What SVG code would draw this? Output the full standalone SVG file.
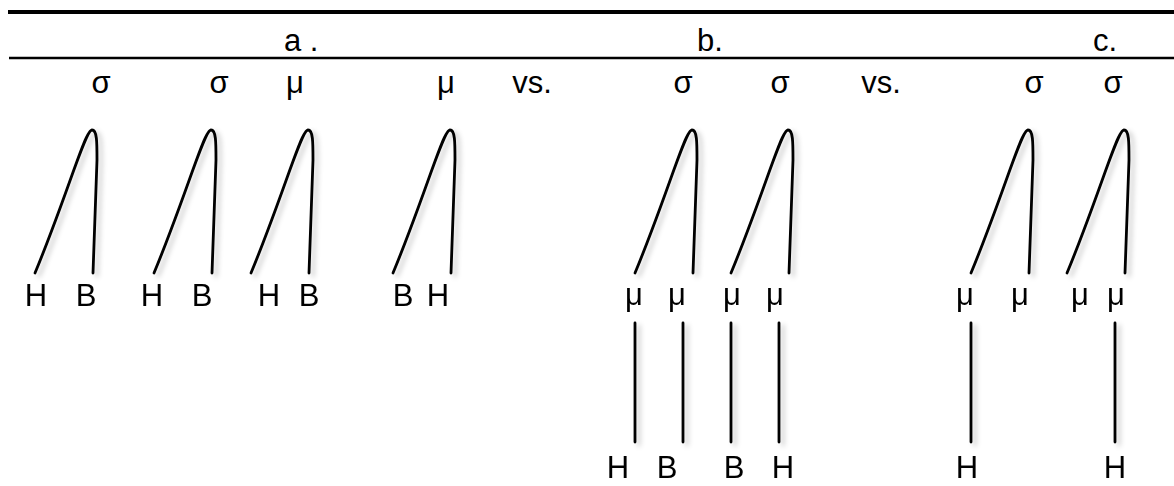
<svg xmlns="http://www.w3.org/2000/svg" xmlns:xlink="http://www.w3.org/1999/xlink" width="1174" height="486" viewBox="0 0 1174 486">
<style>
text{font-family:"Liberation Sans",Arial,sans-serif;font-size:31px;fill:#000}
.m{text-anchor:middle}
.ln{fill:none;stroke:#000;stroke-width:2.8;stroke-linecap:round}
</style>
<defs>
<filter id="sh" x="-30%" y="-10%" width="160%" height="130%">
<feDropShadow dx="4" dy="3" stdDeviation="2.5" flood-color="#000" flood-opacity="0.22"/>
</filter>
<path id="arcA" d="M0,143 C33,63 50,0 57,0 C62,0 62,12 62,30 L58,143"/>
</defs>
<rect width="1174" height="486" fill="#fff"/>
<g id="rules">
<line x1="8" y1="12" x2="1174" y2="12" stroke="#000" stroke-width="4"/>
<line x1="9" y1="58" x2="1174" y2="58" stroke="#000" stroke-width="2.4"/>
</g>
<g id="headers">
<text x="284" y="51">a .</text>
<text x="697" y="51">b.</text>
<text x="1093" y="51">c.</text>
</g>
<g id="top-labels">
<text class="m" x="101" y="93">σ</text>
<text class="m" x="219" y="93">σ</text>
<text class="m" x="295" y="93">μ</text>
<text class="m" x="446" y="93">μ</text>
<text class="m" x="532" y="93">vs.</text>
<text class="m" x="683" y="93">σ</text>
<text class="m" x="780" y="93">σ</text>
<text class="m" x="881" y="93">vs.</text>
<text class="m" x="1034" y="93">σ</text>
<text class="m" x="1113" y="93">σ</text>
</g>
<g id="connectors" class="ln" filter="url(#sh)">
<use xlink:href="#arcA" x="35" y="130"/>
<use xlink:href="#arcA" x="154" y="130"/>
<use xlink:href="#arcA" x="251" y="130"/>
<use xlink:href="#arcA" x="393" y="130"/>
<use xlink:href="#arcA" x="635" y="130"/>
<use xlink:href="#arcA" x="731" y="130"/>
<use xlink:href="#arcA" x="971" y="130"/>
<use xlink:href="#arcA" x="1067" y="130"/>
<line x1="635" y1="323" x2="635" y2="442"/>
<line x1="683" y1="323" x2="683" y2="442"/>
<line x1="731" y1="323" x2="731" y2="442"/>
<line x1="779" y1="323" x2="779" y2="442"/>
<line x1="971" y1="323" x2="971" y2="442"/>
<line x1="1115" y1="323" x2="1115" y2="442"/>
</g>
<g id="node-a-labels">
<text class="m" x="36" y="306">H</text>
<text class="m" x="86" y="306">B</text>
<text class="m" x="152" y="306">H</text>
<text class="m" x="202" y="306">B</text>
<text class="m" x="269" y="306">H</text>
<text class="m" x="309" y="306">B</text>
<text class="m" x="403" y="306">B</text>
<text class="m" x="438" y="306">H</text>
</g>
<g id="node-mu-labels">
<text class="m" x="634" y="305">μ</text>
<text class="m" x="677" y="305">μ</text>
<text class="m" x="732" y="305">μ</text>
<text class="m" x="775" y="305">μ</text>
<text class="m" x="965" y="305">μ</text>
<text class="m" x="1020" y="305">μ</text>
<text class="m" x="1080" y="305">μ</text>
<text class="m" x="1116" y="305">μ</text>
</g>
<g id="node-bottom-labels">
<text class="m" x="618" y="478">H</text>
<text class="m" x="667" y="478">B</text>
<text class="m" x="734" y="478">B</text>
<text class="m" x="783" y="478">H</text>
<text class="m" x="967" y="478">H</text>
<text class="m" x="1115" y="478">H</text>
</g>
</svg>
